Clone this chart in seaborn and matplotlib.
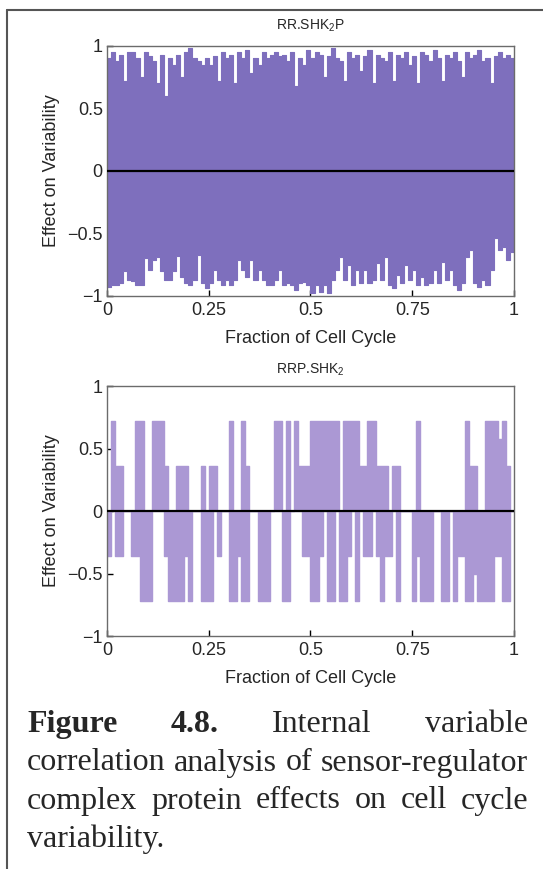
import numpy as np
import pandas as pd
import matplotlib
matplotlib.use("Agg")
import matplotlib.pyplot as plt
from matplotlib.lines import Line2D
import seaborn as sns

# bordes de los 100 intervalos de la fraccion del ciclo celular
ciclo = np.linspace(0, 1, 101)

# RR.SHK2P: envolvente superior e inferior por intervalo
rr_sup = [0.90, 0.95, 0.88, 0.93, 0.72, 0.95, 0.95, 0.90, 0.75, 0.95,
          0.92, 0.88, 0.70, 0.93, 0.60, 0.90, 0.85, 0.93, 0.75, 0.95,
          0.98, 0.90, 0.88, 0.85, 0.90, 0.85, 0.92, 0.72, 0.95, 0.90,
          0.93, 0.70, 0.95, 0.90, 0.97, 0.78, 0.90, 0.85, 0.95, 0.90,
          0.93, 0.95, 0.92, 0.93, 0.88, 0.95, 0.68, 0.90, 0.85, 0.97,
          0.90, 0.95, 0.93, 0.75, 0.92, 0.98, 0.90, 0.88, 0.72, 0.95,
          0.90, 0.93, 0.80, 0.92, 0.97, 0.70, 0.93, 0.90, 0.88, 0.95,
          0.72, 0.93, 0.90, 0.95, 0.85, 0.92, 0.70, 0.95, 0.93, 0.88,
          0.97, 0.90, 0.72, 0.93, 0.90, 0.95, 0.88, 0.75, 0.95, 0.90,
          0.93, 0.97, 0.88, 0.90, 0.70, 0.92, 0.95, 0.90, 0.93, 0.90]
rr_inf = [-0.93, -0.91, -0.91, -0.90, -0.80, -0.87, -0.88, -0.91, -0.91, -0.70,
          -0.79, -0.71, -0.69, -0.80, -0.87, -0.87, -0.80, -0.68, -0.85, -0.90,
          -0.91, -0.87, -0.67, -0.90, -0.94, -0.90, -0.79, -0.87, -0.91, -0.87,
          -0.91, -0.87, -0.71, -0.79, -0.85, -0.71, -0.87, -0.79, -0.87, -0.91,
          -0.91, -0.87, -0.79, -0.91, -0.90, -0.91, -0.95, -0.90, -0.89, -0.91,
          -0.98, -0.91, -0.97, -0.91, -0.98, -0.87, -0.79, -0.69, -0.87, -0.75,
          -0.91, -0.79, -0.90, -0.79, -0.90, -0.87, -0.74, -0.87, -0.69, -0.91,
          -0.94, -0.83, -0.90, -0.75, -0.87, -0.79, -0.91, -0.85, -0.91, -0.90,
          -0.79, -0.90, -0.73, -0.87, -0.79, -0.91, -0.95, -0.90, -0.69, -0.63,
          -0.90, -0.93, -0.87, -0.91, -0.79, -0.54, -0.63, -0.61, -0.71, -0.65]

# RRP.SHK2: parte positiva y negativa por intervalo
rrp_sup = [0, 0.72, 0.36, 0.36, 0, 0, 0, 0.72, 0.72, 0,
           0, 0.72, 0.72, 0.72, 0.36, 0, 0, 0.36, 0.36, 0.36,
           0, 0, 0, 0.36, 0, 0.36, 0.36, 0, 0, 0,
           0.72, 0, 0, 0.72, 0.36, 0, 0, 0, 0, 0,
           0, 0.72, 0.72, 0, 0.72, 0, 0.72, 0.36, 0.36, 0.36,
           0.72, 0.72, 0.72, 0.72, 0.72, 0.72, 0.72, 0, 0.72, 0.72,
           0.72, 0.72, 0.36, 0.36, 0.72, 0.72, 0.36, 0.36, 0.36, 0,
           0.36, 0.36, 0, 0, 0, 0, 0.72, 0, 0, 0,
           0, 0, 0, 0, 0, 0, 0, 0, 0.72, 0.36,
           0.36, 0, 0, 0.72, 0.72, 0.72, 0.58, 0.72, 0.36, 0]
rrp_inf = [-0.36, 0, -0.36, -0.36, 0, 0, -0.36, -0.36, -0.72, -0.72,
           -0.72, 0, 0, 0, -0.36, -0.72, -0.72, -0.72, -0.72, -0.36,
           -0.72, 0, 0, -0.72, -0.72, -0.72, 0, -0.36, 0, 0,
           -0.72, -0.72, -0.36, -0.72, -0.72, 0, 0, -0.72, -0.72, -0.72,
           0, 0, 0, -0.72, -0.72, 0, 0, 0, -0.36, -0.36,
           -0.72, -0.72, -0.36, 0, -0.72, -0.72, 0, -0.72, -0.72, -0.36,
           0, -0.72, 0, -0.36, -0.36, 0, -0.36, -0.72, -0.36, -0.36,
           0, -0.72, 0, 0, 0, -0.72, -0.36, -0.72, -0.72, -0.72,
           0, 0, -0.72, -0.72, 0, -0.72, -0.36, -0.36, -0.72, -0.72,
           -0.50, -0.72, -0.72, -0.72, -0.72, -0.36, -0.36, -0.72, -0.72, 0]

ticks_x = [0, 0.25, 0.5, 0.75, 1]
etiq_x = ["0", "0.25", "0.5", "0.75", "1"]
ticks_y = [-1, -0.5, 0, 0.5, 1]
etiq_y = ["\u22121", "\u22120.5", "0", "0.5", "1"]

sns.set_style("ticks")
plt.rcParams['font.family'] = ['Liberation Sans', 'DejaVu Sans']
plt.rcParams['mathtext.default'] = 'regular'

GRIS = '#6b6b6b'


def a_df(sup, inf):
    # repetimos el ultimo valor para cerrar el escalon
    return pd.DataFrame({'fraccion': ciclo,
                         'sup': list(sup) + [sup[-1]],
                         'inf': list(inf) + [inf[-1]]})


def formato_eje(ax, titulo, pad):
    ax.set_xlim(0, 1)
    ax.set_ylim(-1, 1)
    ax.set_xticks(ticks_x, etiq_x)
    ax.set_yticks(ticks_y, etiq_y)
    ax.tick_params(direction='in', length=4, width=1, color='black',
                   labelsize=13, pad=3, top=False, right=False)
    ax.tick_params(axis='x', pad=4)
    for s in ax.spines.values():
        s.set_color(GRIS)
        s.set_linewidth(1)
    ax.axhline(0, color='black', lw=1.6, zorder=5)
    ax.set_xlabel('Fraction of Cell Cycle', fontsize=13, labelpad=8)
    ax.set_ylabel('Effect on Variability', fontsize=13, labelpad=5)
    ax.set_title(titulo, fontsize=10, pad=pad)


fig = plt.figure(figsize=(5.43, 8.69), dpi=100)

# panel superior
ax1 = fig.add_axes([0.197, 0.6594, 0.7495, 0.2877])
df1 = a_df(rr_sup, rr_inf)
c1 = '#7e6fbd'
ax1.fill_between(df1['fraccion'], df1['inf'], df1['sup'], step='post',
                 color=c1, lw=0)
sns.lineplot(data=df1, x='fraccion', y='sup', drawstyle='steps-post',
             color=c1, lw=0.8, ax=ax1)
sns.lineplot(data=df1, x='fraccion', y='inf', drawstyle='steps-post',
             color=c1, lw=0.8, ax=ax1)
formato_eje(ax1, 'RR.SHK$_2$P', 11.5)

# panel inferior
ax2 = fig.add_axes([0.197, 0.2681, 0.7495, 0.2877])
df2 = a_df(rrp_sup, rrp_inf)
c2 = '#ab98d4'
ax2.fill_between(df2['fraccion'], 0, df2['sup'], step='post', color=c2, lw=0)
ax2.fill_between(df2['fraccion'], df2['inf'], 0, step='post', color=c2, lw=0)
sns.lineplot(data=df2, x='fraccion', y='sup', drawstyle='steps-post',
             color=c2, lw=1, ax=ax2)
sns.lineplot(data=df2, x='fraccion', y='inf', drawstyle='steps-post',
             color=c2, lw=1, ax=ax2)
formato_eje(ax2, 'RRP.SHK$_2$', 9)

# marco de la pagina
W, H = 543, 869
fig.add_artist(Line2D([7 / W, 7 / W], [0, 1 - 9.7 / H], color='#555555', lw=1.5))
fig.add_artist(Line2D([7 / W, 1], [1 - 9.7 / H, 1 - 9.7 / H], color='#555555', lw=1.5))

# pie de figura justificado
lineas = [
    [('Figure', 'bold'), ('4.8.', 'bold'), ('Internal', 'normal'), ('variable', 'normal')],
    [('correlation', 'normal'), ('analysis', 'normal'), ('of', 'normal'), ('sensor-regulator', 'normal')],
    [('complex', 'normal'), ('protein', 'normal'), ('effects', 'normal'), ('on', 'normal'),
     ('cell', 'normal'), ('cycle', 'normal')],
    [('variability.', 'normal')],
]
bases = [732, 770.5, 808.5, 846.5]
x0, x1 = 27, 528
r = fig.canvas.get_renderer()
for i, (palabras, yb) in enumerate(zip(lineas, bases)):
    objs = [fig.text(0, 1 - yb / H, t, fontsize=23, family='Liberation Serif',
                     weight=p, va='baseline', ha='left') for t, p in palabras]
    anchos = [o.get_window_extent(r).width for o in objs]
    if i < len(lineas) - 1 and len(objs) > 1:
        hueco = (x1 - x0 - sum(anchos)) / (len(objs) - 1)
    else:
        hueco = 8
    x = x0
    for o, w in zip(objs, anchos):
        o.set_x(x / W)
        x += w + hueco

fig.savefig('out.png', dpi=100)
